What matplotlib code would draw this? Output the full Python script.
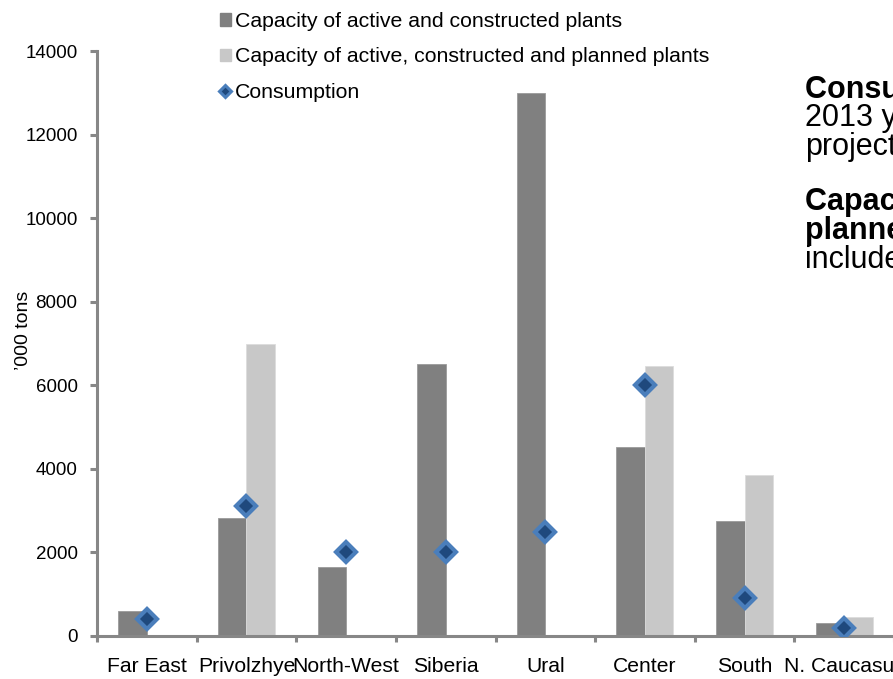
import matplotlib
matplotlib.use("Agg")
import matplotlib.pyplot as plt
from matplotlib.lines import Line2D
from matplotlib.patches import Patch
import numpy as np

plt.rcParams['font.family'] = ['Liberation Sans', 'DejaVu Sans']

regions = ["Far East", "Privolzhye", "North-West", "Siberia", "Ural",
           "Center", "South", "N. Caucasus"]
capacity_active = [600, 2830, 1650, 6500, 13000, 4520, 2750, 320]
capacity_planned = [0, 7000, 0, 0, 0, 6450, 3850, 455]
consumption = [400, 3100, 2000, 2000, 2500, 6000, 900, 190]
y_ticks = [0, 2000, 4000, 6000, 8000, 10000, 12000, 14000]

DARK = "#808080"
LIGHT = "#C8C8C8"
AXIS = "#878787"
MARK_FACE = "#1F497D"
MARK_EDGE = "#4A7EBB"

W, H = 893, 679
fig = plt.figure(figsize=(W / 100, H / 100), dpi=100)
ax = fig.add_axes([97 / W, 1 - 636 / H, 797 / W, 585 / H])

x = np.arange(len(regions))
bw = 1 / 3.5
ax.bar(x - bw / 2, capacity_active, width=bw, color=DARK, edgecolor="#9A9A9A",
       linewidth=0.6, zorder=2)
ax.bar(x + bw / 2, capacity_planned, width=bw, color=LIGHT, edgecolor="#DCDCDC",
       linewidth=0.6, zorder=2)
ax.plot(x, consumption, linestyle="none", marker="D", markersize=10,
        markerfacecolor=MARK_FACE, markeredgecolor=MARK_EDGE,
        markeredgewidth=3, zorder=3)

ax.set_xlim(-0.5, len(regions) - 0.5)
ax.set_ylim(0, 14000)
ax.set_yticks(y_ticks)
ax.set_yticklabels([str(v) for v in y_ticks])
ax.set_xticks(x)
ax.set_xticklabels(regions)
ax.set_xticks(np.arange(len(regions) + 1) - 0.5, minor=True)

for side in ("top", "right"):
    ax.spines[side].set_visible(False)
for side in ("left", "bottom"):
    ax.spines[side].set_color(AXIS)
    ax.spines[side].set_linewidth(2.2)

ax.tick_params(axis="y", direction="out", length=5, width=2.2, color=AXIS,
               labelsize=13.5, pad=9)
ax.tick_params(axis="x", which="major", length=0, labelsize=15.2, pad=15)
ax.tick_params(axis="x", which="minor", direction="out", length=4, width=2.2,
               color=AXIS)

ax.set_ylabel("\u2019000 tons", fontsize=14)
ax.yaxis.set_label_coords(-0.0816, 0.523)

handles = [
    Patch(facecolor=DARK, edgecolor=DARK),
    Patch(facecolor=LIGHT, edgecolor=LIGHT),
    Line2D([], [], linestyle="none", marker="D", markersize=6.5,
           markerfacecolor=MARK_FACE, markeredgecolor=MARK_EDGE,
           markeredgewidth=2.2),
]
labels = ["Capacity of active and constructed plants",
          "Capacity of active, constructed and planned plants",
          "Consumption"]
fig.legend(handles, labels, loc="upper left",
           bbox_to_anchor=(220 / W, 1 - 12 / H), frameon=False,
           fontsize=15.3, handlelength=0.5, handleheight=0.5,
           handletextpad=0.2, labelspacing=0.77, borderaxespad=0,
           borderpad=0)

# Notes on the right-hand side
note_lines = [
    ("Consumption \u2013", "bold", 90),
    ("2013 year,", "normal", 118),
    ("projected", "normal", 147),
    ("Capacity of", "bold", 202),
    ("planned plants", "bold", 231),
    ("includes", "normal", 260),
]
for txt, weight, ypix in note_lines:
    fig.text(805 / W, 1 - ypix / H, txt, fontsize=22, fontweight=weight,
             ha="left", va="center")

fig.savefig("out.png", dpi=100)
